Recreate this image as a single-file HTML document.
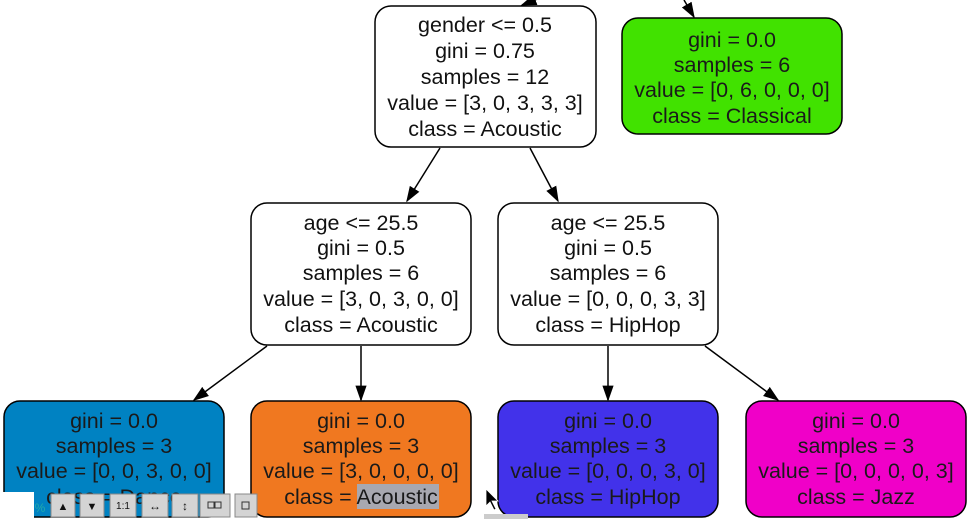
<!DOCTYPE html>
<html><head><meta charset="utf-8"><style>
html,body{margin:0;padding:0;background:#fff;}
svg{display:block;}
text{font-family:"Liberation Sans",sans-serif;font-size:21.5px;text-anchor:middle;fill:#111;}
.btn{fill:#d4d4d4;stroke:#888;stroke-width:1;}
.lf text{fill:#1a1a1a;}
</style></head><body>
<svg width="972" height="519" viewBox="0 0 972 519">
<defs>
<marker id="ah2" viewBox="0 0 10 10" refX="9" refY="5" markerWidth="16" markerHeight="16" orient="auto" markerUnits="userSpaceOnUse"><path d="M0,1.5 L10,5 L0,8.5 z" fill="#000"/></marker></defs>
<g stroke="#000" stroke-width="1.5" fill="none">
<line x1="545" y1="-4" x2="522" y2="5" marker-end="url(#ah2)"/>
<line x1="684" y1="0" x2="694" y2="17" marker-end="url(#ah2)"/>
<line x1="440" y1="148" x2="407" y2="201" marker-end="url(#ah2)"/>
<line x1="530" y1="148" x2="558" y2="201" marker-end="url(#ah2)"/>
<line x1="267" y1="346" x2="194" y2="400" marker-end="url(#ah2)"/>
<line x1="361" y1="346" x2="361" y2="400" marker-end="url(#ah2)"/>
<line x1="608" y1="346" x2="608" y2="400" marker-end="url(#ah2)"/>
<line x1="705" y1="346" x2="778" y2="400" marker-end="url(#ah2)"/>
</g>
<g>
<rect x="375" y="6" width="221" height="141" rx="16" fill="#fff" stroke="#000" stroke-width="1.5"/>
<text x="485" y="32">gender &lt;= 0.5</text><text x="485" y="58">gini = 0.75</text><text x="485" y="84">samples = 12</text><text x="485" y="110">value = [3, 0, 3, 3, 3]</text><text x="485" y="136">class = Acoustic</text></g>
<g class="lf">
<rect x="622" y="18" width="220" height="116" rx="16" fill="#41e200" stroke="#000" stroke-width="1.5"/>
<text x="732" y="47">gini = 0.0</text><text x="732" y="72">samples = 6</text><text x="732" y="97">value = [0, 6, 0, 0, 0]</text><text x="732" y="123">class = Classical</text></g>
<g>
<rect x="251" y="203" width="220" height="142" rx="16" fill="#fff" stroke="#000" stroke-width="1.5"/>
<text x="361" y="230">age &lt;= 25.5</text><text x="361" y="255">gini = 0.5</text><text x="361" y="280">samples = 6</text><text x="361" y="306">value = [3, 0, 3, 0, 0]</text><text x="361" y="332">class = Acoustic</text></g>
<g>
<rect x="498" y="203" width="220" height="142" rx="16" fill="#fff" stroke="#000" stroke-width="1.5"/>
<text x="608" y="230">age &lt;= 25.5</text><text x="608" y="255">gini = 0.5</text><text x="608" y="280">samples = 6</text><text x="608" y="306">value = [0, 0, 0, 3, 3]</text><text x="608" y="332">class = HipHop</text></g>
<g class="lf">
<rect x="4" y="401" width="220" height="116" rx="16" fill="#0082c2" stroke="#000" stroke-width="1.5"/>
<text x="114" y="428">gini = 0.0</text><text x="114" y="453">samples = 3</text><text x="114" y="478">value = [0, 0, 3, 0, 0]</text><text x="114" y="504">class = Dance</text></g>
<g class="lf">
<rect x="251" y="401" width="220" height="116" rx="16" fill="#f07820" stroke="#000" stroke-width="1.5"/>
<text x="361" y="428">gini = 0.0</text><text x="361" y="453">samples = 3</text><text x="361" y="478">value = [3, 0, 0, 0, 0]</text>
<rect x="357" y="484" width="82" height="25" fill="#a8a8b0"/>
<text x="361" y="504">class = Acoustic</text></g>
<g class="lf">
<rect x="498" y="401" width="220" height="116" rx="16" fill="#4232ea" stroke="#000" stroke-width="1.5"/>
<text x="608" y="428">gini = 0.0</text><text x="608" y="453">samples = 3</text><text x="608" y="478">value = [0, 0, 0, 3, 0]</text><text x="608" y="504">class = HipHop</text></g>
<g class="lf">
<rect x="746" y="401" width="220" height="116" rx="16" fill="#f000c8" stroke="#000" stroke-width="1.5"/>
<text x="856" y="428">gini = 0.0</text><text x="856" y="453">samples = 3</text><text x="856" y="478">value = [0, 0, 0, 0, 3]</text><text x="856" y="504">class = Jazz</text></g>
<g>
<rect x="0" y="492" width="34" height="27" fill="#fff"/>
<text x="40" y="512" style="font-size:12px;fill:#2aa">%</text>
<g><rect class="btn" x="51" y="494" width="24" height="23"/><text x="63" y="510" style="font-size:11px">▲</text></g>
<g><rect class="btn" x="80" y="494" width="24" height="23"/><text x="92" y="510" style="font-size:11px">▼</text></g>
<g><rect class="btn" x="110" y="494" width="26" height="23"/><text x="123" y="509" style="font-size:10px">1:1</text></g>
<g><rect class="btn" x="142" y="494" width="26" height="23"/><text x="155" y="510" style="font-size:12px">↔</text></g>
<g><rect class="btn" x="172" y="494" width="26" height="23"/><text x="185" y="510" style="font-size:12px">↕</text></g>
<g><rect class="btn" x="200" y="494" width="30" height="23"/><rect x="208" y="502" width="6" height="6" fill="none" stroke="#333"/><rect x="215" y="502" width="6" height="6" fill="none" stroke="#333"/></g>
<g><rect class="btn" x="235" y="494" width="22" height="23"/><rect x="242" y="502" width="7" height="7" fill="none" stroke="#333"/></g>
</g>
<path d="M486,489 L486,506 L490,502 L494,510 L496,509 L492,501 L498,501 Z" fill="#000" stroke="#fff" stroke-width="0.8"/>
<rect x="484" y="514" width="44" height="5" fill="#ccc"/>
</svg>
</body></html>
